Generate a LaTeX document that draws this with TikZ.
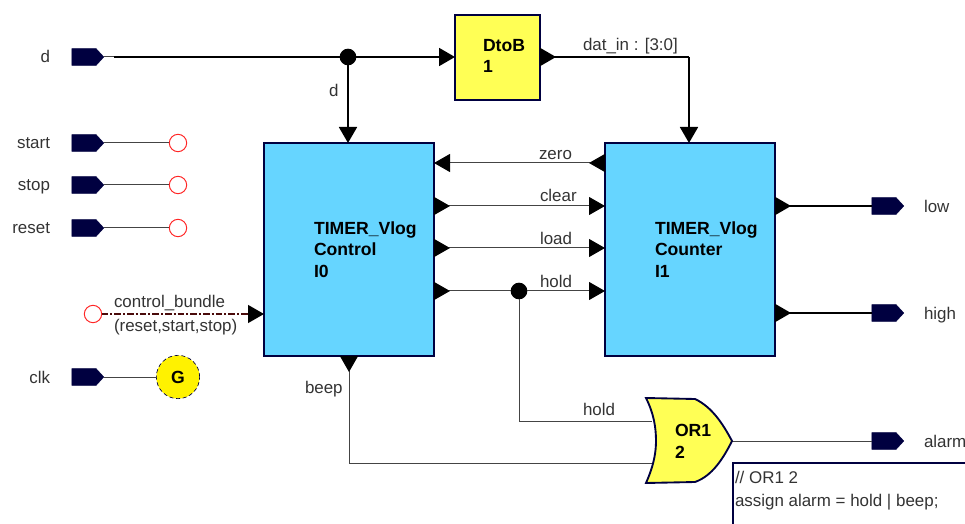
\documentclass[tikz,border=0pt]{standalone}
\usepackage{fontspec}
\setmainfont{Liberation Sans}
\usetikzlibrary{arrows.meta,shapes.symbols}
\definecolor{navy}{HTML}{000040}
\definecolor{skyb}{HTML}{66D5FF}
\definecolor{yell}{HTML}{FFFF55}
\definecolor{wirec}{HTML}{444444}
\definecolor{txtc}{HTML}{333333}
\definecolor{bundlec}{HTML}{4A0A0A}
\tikzset{
 x=0.75pt,y=-0.75pt,
 block/.style={draw=navy,line width=1.5pt,fill=skyb,minimum width=127.5pt,minimum height=159.75pt,inner sep=0pt,outer sep=0pt},
 yblock/.style={draw=navy,line width=1.5pt,fill=yell,minimum width=63.75pt,minimum height=63.75pt,inner sep=0pt,outer sep=0pt},
 port/.style={signal,signal to=east,signal pointer angle=95,fill=navy,draw=navy,line width=.3pt,minimum width=24pt,minimum height=12.5pt,inner sep=0pt,outer sep=0pt},
 open/.style={circle,draw=red!85!white,fill=white,line width=.75pt,minimum size=13pt,inner sep=0pt,outer sep=0pt},
 junction/.style={circle,fill=black,minimum size=12.5pt,inner sep=0pt,outer sep=0pt},
 wire/.style={draw=wirec,line width=.75pt},
 bus/.style={draw=black,line width=1.4pt},
 tipin/.style={-{Triangle[length=12pt,width=13.5pt,color=black]}},
 tipout/.style={{Triangle[length=12pt,width=13.5pt,reversed,color=black]}-},
 tipboth/.style={{Triangle[length=12pt,width=13.5pt,reversed,color=black]}-{Triangle[length=12pt,width=13.5pt,color=black]}},
 lab/.style={font=\fontsize{12.7}{14}\selectfont,text=txtc,inner sep=0pt,outer sep=0pt},
 labl/.style={lab,anchor=base west},
 labr/.style={lab,anchor=base east},
 bold/.style={font=\fontsize{13.2}{15}\selectfont\bfseries,text=black,inner sep=0pt,outer sep=0pt,anchor=base west},
}
\begin{document}
\begin{tikzpicture}
\useasboundingbox (0,0) rectangle (965,524);
\clip (0,0) rectangle (965,524);
% blocks
\node[block] (ctrl) at (349,249.5) {};
\node[block] (cnt) at (690,249.5) {};
\node[yblock] (dtob) at (497.5,57.5) {};
% ports
\node[port] (pd) at (84,57) {};
\node[port] (pstart) at (84,143) {};
\node[port] (pstop) at (84,185) {};
\node[port] (preset) at (84,228) {};
\node[port] (pclk) at (84,377) {};
\node[port] (plow) at (884,206) {};
\node[port] (phigh) at (884,313) {};
\node[port] (palarm) at (884,441) {};
% open ends
\node[open] (ostart) at (178,143) {};
\node[open] (ostop) at (178,185) {};
\node[open] (oreset) at (178,228) {};
\node[open] (obundle) at (93,314) {};
% generator
\node[circle,draw=navy,densely dashed,line width=.5pt,fill=yellow,minimum size=32.5pt,inner sep=0pt,outer sep=0pt,font=\fontsize{13.2}{15}\selectfont\bfseries] (gen) at (178,377) {G};
% junctions
\node[junction] (jd) at (348,57) {};
\node[junction] (jh) at (519,291) {};
\coordinate (dthin) at (114,57);
\coordinate (dbend) at (689,57);
\coordinate (bbend) at (349,463);
\coordinate (hbend) at (519,421);
\coordinate (orout) at (732,441);
\coordinate (orin1) at (652,421);
\coordinate (orin2) at (652,463);
% wires
\draw[wire] (pd.east) -- (dthin);
\draw[bus] (dthin) -- (jd);
\draw[bus,tipin] (jd) -- (dtob.west |- jd);
\draw[bus,tipin] (jd) -- (jd |- ctrl.north);
\draw[bus,tipout] (dtob.east |- dbend) -- (dbend);
\draw[bus,tipin] (dbend) -- (dbend |- cnt.north);
\draw[wire] (pstart.east) -- (ostart);
\draw[wire] (pstop.east) -- (ostop);
\draw[wire] (preset.east) -- (oreset);
\draw[wire] (pclk.east) -- (gen);
\draw[draw=bundlec,line width=.9pt,dash pattern=on 5pt off 1.5pt on 1.5pt off 1.5pt,tipin] (obundle) -- (ctrl.west |- obundle);
\draw[wire,tipboth] (cnt.west |- 0,163) -- (ctrl.east |- 0,163);
\draw[wire,tipboth] (ctrl.east |- 0,206) -- (cnt.west |- 0,206);
\draw[wire,tipboth] (ctrl.east |- 0,248) -- (cnt.west |- 0,248);
\draw[wire,tipout] (ctrl.east |- jh) -- (jh);
\draw[wire,tipin] (jh) -- (cnt.west |- jh);
\draw[bus,tipout] (cnt.east |- plow) -- (plow.west);
\draw[bus,tipout] (cnt.east |- phigh) -- (phigh.west);
\draw[wire] (jh) -- (hbend) -- (orin1);
\draw[wire,tipout] (bbend |- ctrl.south) -- (bbend) -- (orin2);
\draw[wire] (orout) -- (palarm.west);
% OR gate
\fill[yell,draw=navy,line width=1.4pt] (646,398) -- (695,399) .. controls (712,407) and (723,424) .. (732,441) .. controls (723,459) and (712,476) .. (695,482) -- (646,483) .. controls (654,465) and (656,452) .. (656,441) .. controls (656,428) and (654,414) .. (646,398) -- cycle;
% note
\node[draw=navy,line width=1.2pt,fill=white,minimum width=200pt,minimum height=60pt,anchor=north west,inner sep=0pt,outer sep=0pt] (note) at (733,463) {};
% texts
\node[labr] (td) at (50,63) {d};
\node[labr] (tstart) at (50,149) {start};
\node[labr] (tstop) at (50,191) {stop};
\node[labr] (treset) at (50,234) {reset};
\node[labr] (tclk) at (50,383) {clk};
\node[labl] (tlow) at (924,213) {low};
\node[labl] (thigh) at (924,320) {high};
\node[labl] (talarm) at (924,447) {alarm};
\node[labl] (tw) at (329,97) {d};
\node[labl] (tdat) at (583,51) {dat\_in : [3:0]};
\node[labl] (tzero) at (539,160) {zero};
\node[labl] (tclear) at (540,202) {clear};
\node[labl] (tload) at (540,245) {load};
\node[labl] (thold) at (540,287) {hold};
\node[labl] (thold2) at (583,415) {hold};
\node[labl] (tbeep) at (305,393) {beep};
\node[labl] (tb1) at (114,308) {control\_bundle};
\node[labl] (tb2) at (114,331) {(reset,start,stop)};
\node[bold] (b1) at (314,235) {TIMER\_Vlog};
\node[bold] (b2) at (314,256) {Control};
\node[bold] (b3) at (314,277) {I0};
\node[bold] (c1) at (655,235) {TIMER\_Vlog};
\node[bold] (c2) at (655,256) {Counter};
\node[bold] (c3) at (655,277) {I1};
\node[bold] (d1) at (483,52) {DtoB};
\node[bold] (d2) at (483,73) {1};
\node[bold] (o1) at (675,436) {OR1};
\node[bold] (o2) at (675,458) {2};
\node[labl] (n1) at (735,483) {// OR1 2};
\node[labl] (n2) at (735,506) {assign alarm = hold | beep;};
\end{tikzpicture}
\end{document}
